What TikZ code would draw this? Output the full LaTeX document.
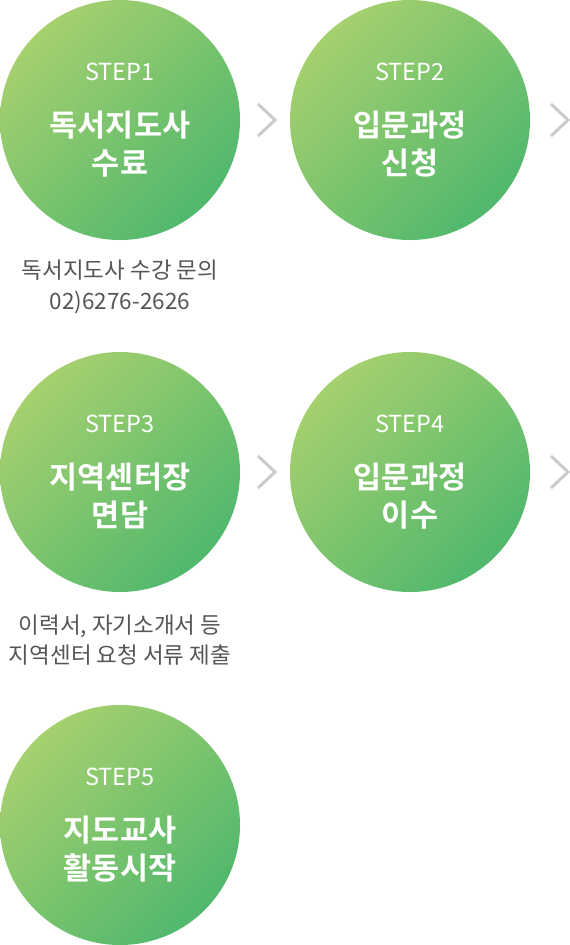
\documentclass[tikz,border=0pt]{standalone}
\usepackage{fontspec}
\setmainfont{Noto Sans CJK KR}[BoldFont={Noto Sans CJK KR Bold}]
\definecolor{gLight}{HTML}{A6D06E}
\definecolor{gDark}{HTML}{50B86D}
\definecolor{chev}{HTML}{CBCBCB}
\definecolor{note}{HTML}{555555}
\tikzset{
  stepcircle/.style={circle, minimum size=240pt, inner sep=0pt, top color=gLight, bottom color=gDark, shading angle=45},
  steplabel/.style={text=white, font=\fontsize{23.5}{23.5}\selectfont, anchor=center},
  steptitle/.style={text=white, font=\bfseries\fontsize{30.5}{38}\selectfont, align=center, anchor=center},
  notetext/.style={text=note, font=\fontsize{22.5}{30.5}\selectfont, align=center, anchor=center},
  chevron/.style={draw=chev, line width=3pt, line cap=butt, line join=miter}
}
\begin{document}
\begin{tikzpicture}[x=1pt,y=-1pt]
\useasboundingbox (0,0) rectangle (570,945);
% circles
\node[stepcircle] (s1) at (120,120) {};
\node[stepcircle] (s2) at (410,120) {};
\node[stepcircle] (s3) at (120,472) {};
\node[stepcircle] (s4) at (410,472) {};
\node[stepcircle] (s5) at (120,825) {};
% labels
\node[steplabel] (l1) at (120,72) {STEP1};
\node[steplabel] (l2) at (410,72) {STEP2};
\node[steplabel] (l3) at (120,424) {STEP3};
\node[steplabel] (l4) at (410,424) {STEP4};
\node[steplabel] (l5) at (120,777) {STEP5};
% titles
\node[steptitle] (t1) at (120,144) {독서지도사\\수료};
\node[steptitle] (t2) at (410,144) {입문과정\\신청};
\node[steptitle] (t3) at (120,496) {지역센터장\\면담};
\node[steptitle] (t4) at (410,496) {입문과정\\이수};
\node[steptitle] (t5) at (120,849) {지도교사\\활동시작};
% notes
\node[notetext] (n1) at (120,287) {독서지도사 수강 문의\\02)6276-2626};
\node[notetext] (n3) at (120,640) {이력서, 자기소개서 등\\지역센터 요청 서류 제출};
% chevrons
\foreach \cx/\cy in {258/120, 551/120, 258/472, 551/472}{
  \draw[chevron] (\cx,\cy-16) -- (\cx+17,\cy) -- (\cx,\cy+16);
}
\end{tikzpicture}
\end{document}
